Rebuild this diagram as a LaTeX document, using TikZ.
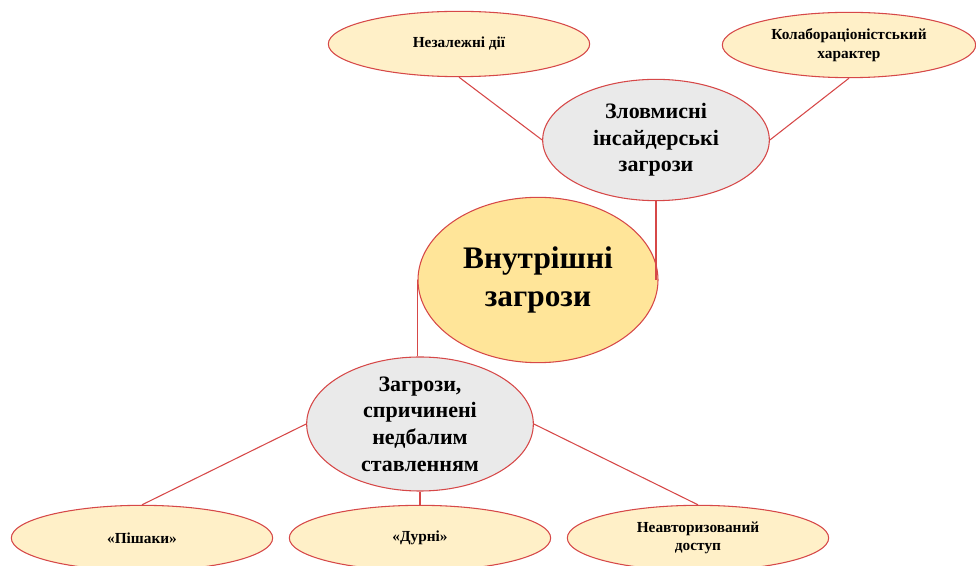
\documentclass[tikz,border=0pt]{standalone}
\usepackage{fontspec}
\setmainfont{Liberation Serif}
\usepackage{xcolor}
\usetikzlibrary{shapes.geometric}
\definecolor{rimred}{RGB}{214,72,72}
\definecolor{paleyellow}{RGB}{255,240,200}
\definecolor{goldfill}{RGB}{255,229,153}
\definecolor{greyfill}{RGB}{234,234,234}

\begin{document}
\begin{tikzpicture}[x=0.75pt,y=-0.75pt,
    every node/.style={ellipse,draw=rimred,line width=0.8pt,align=center,font=\bfseries,inner sep=0pt},
    leaf/.style={fill=paleyellow,minimum width=196pt,minimum height=49pt,font=\bfseries\fontsize{11.5}{14}\selectfont},
    branch/.style={fill=greyfill,minimum width=170pt,minimum height=91pt,font=\bfseries\fontsize{16.5}{20}\selectfont},
    link/.style={draw=rimred,line width=0.8pt}]
            \useasboundingbox (0,0) rectangle (976,566);

            % Core of the map
            \node[fill=goldfill,minimum width=180pt,minimum height=124pt,font=\bfseries\fontsize{23.5}{28.5}\selectfont] (inner) at (538,280) {Внутрішні\\загрози};

            % Upper branch and its leaves
            \node[branch] (malice) at (656,140) {Зловмисні\\інсайдерські\\загрози};
            \node[leaf] (alone) at (459,44) {Незалежні дії};
            \node[leaf,minimum width=190pt] (collab) at (849,45) {Колабораціоністський\\характер};

            % Lower branch and its leaves
            \node[branch,minimum height=90pt] (neglect) at (420,424) {Загрози,\\спричинені\\недбалим\\ставленням};
            \node[leaf] (pawns) at (142,538) {«Пішаки»};
            \node[leaf] (fools) at (420,538) {«Дурні»};
            \node[leaf] (unauth) at (698,538) {Неавторизований\\доступ};

            \draw[link] (alone.south) -- (malice.west);
            \draw[link] (collab.south) -- (malice.east);
            \draw[link] (malice.south) -- (malice.south |- inner.east);
            \draw[link] (inner.west) -- (inner.west |- neglect.north);
            \draw[link] (neglect.west) -- (pawns.north);
            \draw[link] (neglect.south) -- (fools.north);
            \draw[link] (neglect.east) -- (unauth.north);

        \end{tikzpicture}
\end{document}
